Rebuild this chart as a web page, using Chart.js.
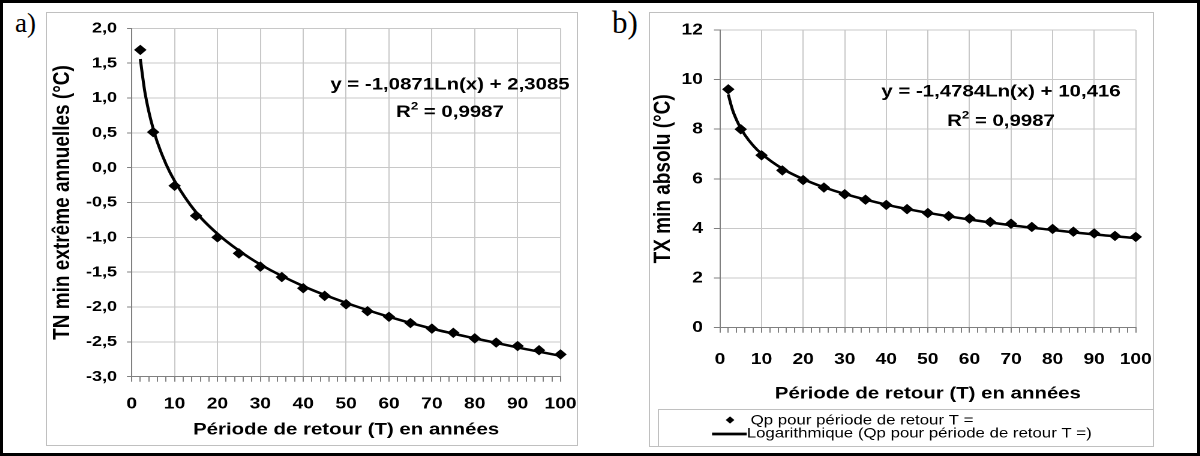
<!DOCTYPE html>
<html>
<head>
<meta charset="utf-8">
<script src="https://cdn.jsdelivr.net/npm/chart.js@4.4.0/dist/chart.umd.min.js"></script>
<style>
  body { margin: 0; background: #fff; }
  #page { position: relative; width: 1200px; height: 456px; overflow: hidden; background: #fff; }
  .frame { position: absolute; border: 1px solid #c0c0c0; box-sizing: border-box; }
  .tag { position: absolute; font-family: "Liberation Serif", "Times New Roman", serif; color: #000; line-height: 1; }
  /* the source picture is stretched sideways, so are the charts */
  .box { position: absolute; transform-origin: 0 0; transform: scaleX(1.2); }
  #outer { position: absolute; left: 0; top: 0; width: 1200px; height: 456px; border: 3px solid #000; box-sizing: border-box; }
</style>
</head>
<body>
<div id="page">
  <div class="frame" style="left:46px;top:12px;width:532px;height:434px"></div>
  <div class="frame" style="left:649px;top:12px;width:505px;height:435px"></div>
  <div class="tag" style="left:15px;top:10px;font-size:27px">a)</div>
  <div class="tag" style="left:612px;top:7px;font-size:31px">b)</div>
  <div class="box" style="left:47px;top:14px;width:442px;height:431px"><canvas id="chartTN"></canvas></div>
  <div class="box" style="left:650px;top:14px;width:418px;height:431px"><canvas id="chartTX"></canvas></div>
  <div class="frame" style="left:658px;top:409px;width:496px;height:38px"></div>
  <div id="outer"></div>
</div>
<script>
// return periods T (years)
const periods = [2, 5, 10, 15, 20, 25, 30, 35, 40, 45, 50, 55, 60, 65, 70, 75, 80, 85, 90, 95, 100];
// Qp for each period
const tnMin = [1.69, 0.51, -0.26, -0.69, -1.00, -1.23, -1.42, -1.57, -1.73, -1.84, -1.96, -2.06, -2.14, -2.23, -2.31, -2.37, -2.45, -2.51, -2.56, -2.62, -2.68];
const txMin = [9.61, 8.00, 6.95, 6.34, 5.95, 5.65, 5.38, 5.16, 4.95, 4.78, 4.62, 4.50, 4.40, 4.26, 4.19, 4.06, 3.98, 3.87, 3.80, 3.70, 3.66];

// logarithmic trend curves
const trendT = [2, 3, 4, 5, 6, 8, 10, 15, 20, 25, 30, 40, 50, 60, 70, 80, 90, 100];
const tnTrend = [1.56, 1.11, 0.80, 0.56, 0.36, 0.05, -0.19, -0.64, -0.95, -1.19, -1.39, -1.70, -1.94, -2.14, -2.31, -2.45, -2.58, -2.70];
const txTrend = [9.40, 8.79, 8.37, 8.04, 7.77, 7.34, 7.01, 6.41, 5.99, 5.66, 5.39, 4.96, 4.63, 4.36, 4.13, 3.94, 3.76, 3.61];

const tnEquation = ["y = -1,0871Ln(x) + 2,3085", "0,9987"];
const txEquation = ["y = -1,4784Ln(x) + 10,416", "0,9987"];

const seriesLabels = ["Qp pour période de retour T =", "Logarithmique (Qp pour période de retour T =)"];
const xTitle = "Période de retour (T) en années";

const FONT = '"Liberation Sans", Arial, sans-serif';
Chart.defaults.font.family = FONT;
Chart.defaults.color = "#000";

const toXY = (xs, ys) => xs.map((x, i) => ({ x: x, y: ys[i] }));

// equation + R² written inside the plot
const trendLabel = {
  id: "trendLabel",
  afterDatasetsDraw(chart, args, opts) {
    const ctx = chart.ctx;
    const big = "bold 17px " + FONT;
    const small = "bold 11px " + FONT;
    ctx.save();
    ctx.fillStyle = "#000";
    ctx.textBaseline = "middle";
    ctx.font = big;
    ctx.textAlign = "center";
    ctx.fillText(opts.text[0], opts.x, opts.y1);
    const rest = " = " + opts.text[1];
    const wR = ctx.measureText("R").width;
    const wRest = ctx.measureText(rest).width;
    ctx.font = small;
    const w2 = ctx.measureText("2").width;
    let x = opts.x - (wR + w2 + wRest) / 2;
    ctx.textAlign = "left";
    ctx.font = big;
    ctx.fillText("R", x, opts.y2);
    ctx.font = small;
    ctx.fillText("2", x + wR, opts.y2 - 6);
    ctx.font = big;
    ctx.fillText(rest, x + wR + w2, opts.y2);
    ctx.restore();
  }
};

// legend in the box under chart b)
const boxLegend = {
  id: "boxLegend",
  afterDraw(chart, args, opts) {
    if (!opts.show) return;
    const ctx = chart.ctx;
    const ds = chart.data.datasets;
    ctx.save();
    ctx.fillStyle = "#000";
    ctx.strokeStyle = "#000";
    // diamond
    const cx = 66.7, cy = 406, r = 3.6;
    ctx.beginPath();
    ctx.moveTo(cx, cy - r);
    ctx.lineTo(cx + r, cy);
    ctx.lineTo(cx, cy + r);
    ctx.lineTo(cx - r, cy);
    ctx.closePath();
    ctx.fill();
    // line
    ctx.lineWidth = 2.8;
    ctx.beginPath();
    ctx.moveTo(51.7, 420);
    ctx.lineTo(80.6, 420);
    ctx.stroke();
    ctx.font = "14px " + FONT;
    ctx.textBaseline = "alphabetic";
    ctx.textAlign = "left";
    ctx.fillText(ds[0].label, 83.9, 410.3);
    ctx.fillText(ds[1].label, 80.6, 423.3);
    ctx.restore();
  }
};

function makeChart(id, cfg) {
  return new Chart(document.getElementById(id), {
    type: "scatter",
    data: {
      datasets: [
        {
          label: seriesLabels[0],
          data: toXY(periods, cfg.points),
          pointStyle: "rectRot",
          pointRadius: 4.5,
          pointHoverRadius: 4.5,
          backgroundColor: "#000",
          borderColor: "#000",
          borderWidth: 1,
          clip: false
        },
        {
          label: seriesLabels[1],
          data: toXY(trendT, cfg.trend),
          showLine: true,
          pointRadius: 0,
          borderColor: "#000",
          backgroundColor: "#000",
          borderWidth: 2.5,
          cubicInterpolationMode: "monotone",
          clip: false
        }
      ]
    },
    options: {
      responsive: true,
      maintainAspectRatio: false,
      devicePixelRatio: 2,
      animation: false,
      events: [],
      layout: { padding: cfg.padding },
      plugins: {
        legend: { display: false },
        tooltip: { enabled: false },
        trendLabel: cfg.eq,
        boxLegend: { show: cfg.legend }
      },
      scales: {
        x: {
          type: "linear",
          min: 0,
          max: 100,
          afterFit: (s) => {
            s.height = cfg.xHeight;
            s.paddingLeft = 0;
            s.paddingRight = 0;
          },
          ticks: {
            stepSize: 2,
            autoSkip: false,
            maxRotation: 0,
            padding: cfg.xTickPad,
            font: { size: 16, weight: "bold" },
            callback: (v) => (Math.round(v) % 10 === 0 ? String(Math.round(v)) : "")
          },
          grid: {
            color: (c) => (c.tick && Math.round(c.tick.value) % 10 === 0 ? "#c8c8c8" : "rgba(0,0,0,0)"),
            tickColor: "#808080",
            tickLength: 5
          },
          border: { color: "#808080", width: 1 },
          title: {
            display: true,
            text: xTitle,
            font: { size: 17, weight: "bold" },
            padding: { top: 0, bottom: cfg.xTitlePad }
          }
        },
        y: {
          min: cfg.yMin,
          max: cfg.yMax,
          afterFit: (s) => {
            s.width = cfg.yWidth;
            s.paddingTop = 0;
            s.paddingBottom = 0;
          },
          ticks: {
            stepSize: cfg.yStep,
            padding: cfg.yTickPad,
            font: { size: cfg.yFont, weight: "bold" },
            callback: cfg.yFormat
          },
          grid: { color: "#c8c8c8", tickColor: "#808080", tickLength: cfg.yTickLen },
          border: { color: "#808080", width: 1 },
          title: {
            display: true,
            text: cfg.yTitle,
            font: { size: 19, weight: "bold" },
            padding: { top: cfg.yTitlePad, bottom: 0 }
          }
        }
      }
    },
    plugins: [trendLabel, boxLegend]
  });
}

makeChart("chartTN", {
  points: tnMin,
  trend: tnTrend,
  padding: { top: 14.3, right: 14.1, bottom: 0, left: 0 },
  xHeight: 68.3,
  yWidth: 70.6,
  xTickPad: 12.7,
  xTitlePad: 4.8,
  yMin: -3,
  yMax: 2,
  yStep: 0.5,
  yFont: 15,
  yTickPad: 8.2,
  yTickLen: 4,
  yTitle: "TN min extrême annuelles (°C)",
  yTitlePad: 1.9,
  yFormat: (v) => v.toFixed(1).replace(".", ","),
  eq: { text: tnEquation, x: 335.8, y1: 71, y2: 98.5 },
  legend: false
});

makeChart("chartTX", {
  points: txMin,
  trend: txTrend,
  padding: { top: 16, right: 13.2, bottom: 37, left: 0 },
  xHeight: 80.3,
  yWidth: 58.3,
  xTickPad: 17.4,
  xTitlePad: 3.8,
  yMin: 0,
  yMax: 12,
  yStep: 2,
  yFont: 16,
  yTickPad: 9.2,
  yTickLen: 5,
  yTitle: "TX min absolu (°C)",
  yTitlePad: 0,
  yFormat: (v) => String(v),
  eq: { text: txEquation, x: 292.5, y1: 78, y2: 107.5 },
  legend: true
});
</script>
</body>
</html>
